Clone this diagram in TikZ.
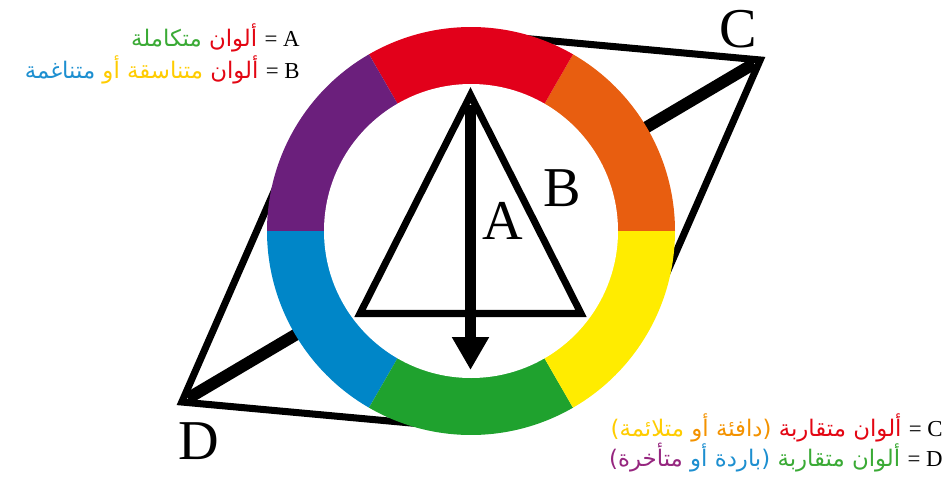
\documentclass[tikz,border=0pt]{standalone}
\usepackage{fontspec}
\setmainfont{Liberation Serif}
\newfontfamily\arabicfont[Script=Arabic]{DejaVu Sans}
\TeXXeTstate=1
\usepackage{tikz}
\usetikzlibrary{arrows.meta}
\definecolor{wRed}{HTML}{E2001A}
\definecolor{wOrange}{HTML}{E85E10}
\definecolor{wYellow}{HTML}{FFEC00}
\definecolor{wGreen}{HTML}{1FA22E}
\definecolor{wBlue}{HTML}{0086C8}
\definecolor{wPurple}{HTML}{6B1F7C}
\definecolor{tRed}{HTML}{E30613}
\definecolor{tOrange}{HTML}{F39200}
\definecolor{tYellow}{HTML}{FFCC00}
\definecolor{tGreen}{HTML}{3AAA35}
\definecolor{tBlue}{HTML}{1D8FD0}
\definecolor{tPurple}{HTML}{96267F}
\newcommand{\arw}[2]{\textcolor{#1}{\beginR #2\endR}}

\begin{document}
\begin{tikzpicture}[>=Stealth]
  \useasboundingbox (0,0) rectangle (18.98,9.6);
  \coordinate (o) at (9.42,4.98);
  \coordinate (pc) at ([shift={(o)}]30.6:6.72);
  \coordinate (pd) at ([shift={(o)}]210.6:6.72);
  \coordinate (r90) at ([shift={(o)}]90:3.95);
  \coordinate (r150) at ([shift={(o)}]150:3.95);
  \coordinate (r270) at ([shift={(o)}]270:3.95);
  \coordinate (r330) at ([shift={(o)}]330:3.95);
  % bar and rhombus behind the wheel
  \draw[line width=6.8pt, shorten <=4pt, shorten >=4pt] (pd) -- (pc);
  \draw[line width=4pt] (r90) -- (pc) -- (r330);
  \draw[line width=4pt] (r150) -- (pd) -- (r270);
  % colour wheel
  \fill[wOrange] (o) -- ([shift={(o)}]0:4.08) arc[start angle=0, end angle=60, radius=4.08] -- cycle;
  \fill[wRed] (o) -- ([shift={(o)}]60:4.08) arc[start angle=60, end angle=120, radius=4.08] -- cycle;
  \fill[wPurple] (o) -- ([shift={(o)}]120:4.08) arc[start angle=120, end angle=180, radius=4.08] -- cycle;
  \fill[wBlue] (o) -- ([shift={(o)}]180:4.08) arc[start angle=180, end angle=240, radius=4.08] -- cycle;
  \fill[wGreen] (o) -- ([shift={(o)}]240:4.08) arc[start angle=240, end angle=300, radius=4.08] -- cycle;
  \fill[wYellow] (o) -- ([shift={(o)}]300:4.08) arc[start angle=300, end angle=360, radius=4.08] -- cycle;
  \fill[white] (o) circle[radius=2.94];
  % triangle and arrow
  \coordinate (ta) at (9.41,7.70);
  \coordinate (tl) at (7.20,3.33);
  \coordinate (tr) at (11.62,3.33);
  \coordinate (tip) at (9.41,2.20);
  \draw[line width=4pt] (ta) -- (tl) -- (tr) -- cycle;
  \draw[line width=6pt, -{Triangle[length=0.66cm, width=0.70cm]}] ([yshift=-0.2cm]ta) -- (tip);
  \node[font=\fontsize{32}{32}\selectfont, inner sep=0pt] (lA) at (10.06,5.18) {A};
  \node[font=\fontsize{32}{32}\selectfont, inner sep=0pt] (lB) at (11.24,5.84) {B};
  \node[font=\fontsize{32}{32}\selectfont, inner sep=0pt] (lC) at (14.76,9.02) {C};
  \node[font=\fontsize{32}{32}\selectfont, inner sep=0pt] (lD) at (3.98,0.78) {D};
  % legend
  \node[anchor=base east, inner sep=0pt, font=\arabicfont\fontsize{13}{15}\selectfont] (kA) at (6.0,8.67)
    {\arw{tGreen}{متكاملة} \arw{tRed}{ألوان} {\rmfamily\fontsize{13}{15}\selectfont = A}};
  \node[anchor=base east, inner sep=0pt, font=\arabicfont\fontsize{13}{15}\selectfont] (kB) at (6.0,8.04)
    {\arw{tBlue}{متناغمة} \arw{tYellow}{أو} \arw{tYellow}{متناسقة} \arw{tRed}{ألوان} {\rmfamily\fontsize{13}{15}\selectfont = B}};
  \node[anchor=base east, inner sep=0pt, font=\arabicfont\fontsize{13}{15}\selectfont] (kC) at (18.86,0.88)
    {\textcolor{tYellow}{)}\arw{tYellow}{متلائمة} \arw{tOrange}{أو} \arw{tOrange}{دافئة}\textcolor{tOrange}{(} \arw{tRed}{متقاربة} \arw{tRed}{ألوان} {\rmfamily\fontsize{13}{15}\selectfont = C}};
  \node[anchor=base east, inner sep=0pt, font=\arabicfont\fontsize{13}{15}\selectfont] (kD) at (18.86,0.27)
    {\textcolor{tPurple}{)}\arw{tPurple}{متأخرة} \arw{tBlue}{أو} \arw{tBlue}{باردة}\textcolor{tBlue}{(} \arw{tGreen}{متقاربة} \arw{tGreen}{ألوان} {\rmfamily\fontsize{13}{15}\selectfont = D}};
\end{tikzpicture}
\end{document}
